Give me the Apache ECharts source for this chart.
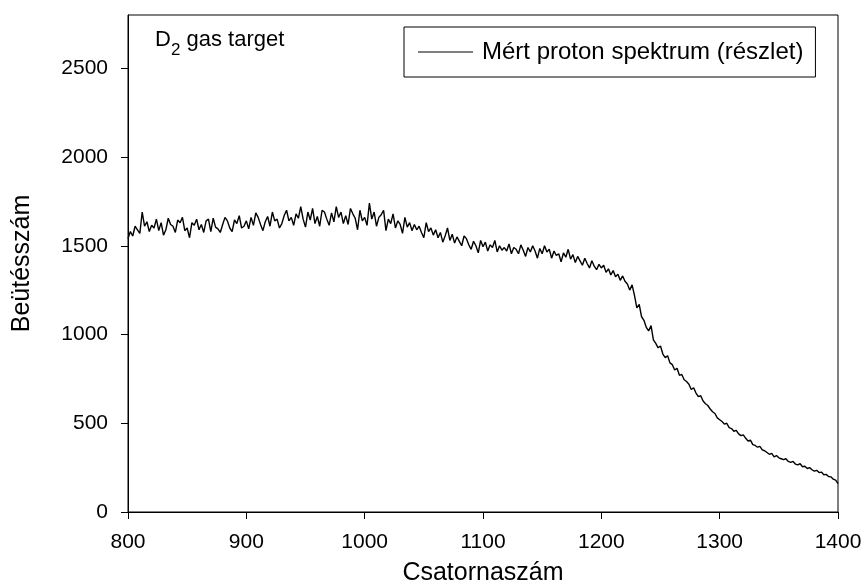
<!DOCTYPE html>
<html>
<head>
<meta charset="utf-8">
<script src="https://cdn.jsdelivr.net/npm/echarts@6/dist/echarts.min.js"></script>
<style>
  html, body { margin: 0; padding: 0; background: #fff; }
  #chart { width: 867px; height: 585px; }
</style>
</head>
<body>
<div id="chart"></div>
<script>
// csatorna: 800..1400, 2-esével
const channelStart = 800
const channelStep = 2
// beütésszám
const counts = [
  1540, 1580, 1555, 1610, 1590, 1570, 1690, 1610, 1635, 1580,
  1615, 1600, 1650, 1585, 1630, 1560, 1590, 1655, 1620, 1610,
  1575, 1645, 1630, 1660, 1585, 1600, 1545, 1630, 1615, 1650,
  1590, 1620, 1575, 1640, 1650, 1580, 1655, 1605, 1595, 1575,
  1620, 1660, 1640, 1600, 1580, 1645, 1625, 1670, 1600, 1610,
  1640, 1595, 1660, 1615, 1685, 1660, 1620, 1585, 1635, 1665,
  1610, 1690, 1640, 1650, 1600, 1625, 1670, 1700, 1640, 1660,
  1615, 1680, 1655, 1720, 1650, 1605, 1690, 1645, 1710, 1625,
  1665, 1610, 1700, 1690, 1650, 1615, 1685, 1635, 1720, 1660,
  1690, 1625, 1670, 1620, 1710, 1680, 1655, 1590, 1700, 1640,
  1660, 1615, 1740, 1650, 1690, 1610, 1660, 1675, 1700, 1585,
  1650, 1625, 1680, 1600, 1640, 1620, 1570, 1660, 1605, 1630,
  1585, 1620, 1590, 1610, 1575, 1545, 1630, 1580, 1600, 1560,
  1590, 1545, 1575, 1520, 1555, 1600, 1530, 1565, 1515, 1550,
  1525, 1500, 1555, 1540, 1505, 1480, 1525, 1500, 1460, 1530,
  1495, 1520, 1470, 1505, 1490, 1530, 1465, 1500, 1475, 1490,
  1470, 1510, 1455, 1490, 1480, 1455, 1505, 1475, 1440, 1490,
  1465, 1500, 1470, 1430, 1485, 1455, 1500, 1465, 1480, 1430,
  1470, 1445, 1455, 1410, 1460, 1435, 1480, 1425, 1450, 1405,
  1440, 1415, 1390, 1430, 1400, 1375, 1415, 1385, 1365, 1395,
  1375, 1390, 1350, 1370, 1335, 1360, 1325, 1340, 1305, 1330,
  1300, 1285, 1250, 1280, 1220, 1150, 1170, 1100, 1080, 1040,
  1020, 1050, 970, 950, 925, 935, 890, 870, 880, 840,
  830, 800, 810, 770, 775, 745, 735, 720, 690, 700,
  670, 650, 655, 625, 610, 600, 580, 565, 555, 530,
  520, 510, 495, 500, 475, 470, 455, 460, 440, 430,
  435, 415, 400, 405, 380, 375, 365, 370, 350, 345,
  335, 325, 330, 310, 318, 305, 300, 295, 300, 285,
  280, 285, 270, 265, 272, 255, 258, 245, 250, 238,
  230, 235, 222, 225, 210, 212, 200, 198, 185, 180,
  160
]
const xTicks = [800, 900, 1000, 1100, 1200, 1300, 1400]
const yTicks = [0, 500, 1000, 1500, 2000, 2500]
const seriesName = 'Mért proton spektrum (részlet)'

const chart = echarts.init(document.getElementById('chart'))
const font = 'Liberation Sans, Arial, sans-serif'
const points = counts.map((c, i) => [channelStart + i * channelStep, c])

chart.setOption({
  animation: false,
  textStyle: { fontFamily: font, color: '#000' },
  title: {
    left: 150,
    top: 24,
    text: '{a|D}{b|2}{a| gas target}',
    textStyle: {
      fontWeight: 'normal',
      rich: {
        a: { fontFamily: font, fontSize: 22, fontWeight: 'normal', color: '#000', verticalAlign: 'top' },
        b: { fontFamily: font, fontSize: 17, fontWeight: 'normal', color: '#000', padding: [13, 0, 0, 0] }
      }
    }
  },
  legend: {
    left: 404,
    top: 27,
    padding: [13, 12, 13, 14],
    borderColor: '#000',
    borderWidth: 1,
    borderRadius: 0,
    itemWidth: 55,
    itemHeight: 1,
    itemGap: 10,
    data: [{ name: seriesName, icon: 'rect' }],
    textStyle: { fontFamily: font, fontSize: 24, color: '#000', padding: [0, 0, 0, 4] }
  },
  grid: {
    left: 128,
    right: 29,
    top: 15,
    bottom: 73,
    show: true,
    borderColor: '#000',
    borderWidth: 1,
    outerBoundsMode: 'none'
  },
  xAxis: {
    type: 'value',
    min: xTicks[0],
    max: xTicks[xTicks.length - 1],
    interval: 100,
    name: 'Csatornaszám',
    nameLocation: 'middle',
    nameGap: 49,
    nameTextStyle: { fontFamily: font, fontSize: 25, color: '#000' },
    axisLine: { lineStyle: { color: '#000', width: 1 } },
    axisTick: { show: true, inside: false, length: 7, lineStyle: { color: '#000' } },
    axisLabel: { fontFamily: font, fontSize: 21, color: '#000', margin: 20, formatter: v => String(v) },
    splitLine: { show: false }
  },
  yAxis: {
    type: 'value',
    min: 0,
    max: 2800,
    interval: 500,
    name: 'Beütésszám',
    nameLocation: 'middle',
    nameGap: 93,
    nameRotate: 90,
    nameTextStyle: { fontFamily: font, fontSize: 25, color: '#000' },
    axisLine: { lineStyle: { color: '#000', width: 1 } },
    axisTick: { show: true, inside: false, length: 7, customValues: yTicks, lineStyle: { color: '#000' } },
    axisLabel: {
      fontFamily: font,
      fontSize: 21,
      color: '#000',
      margin: 20,
      customValues: yTicks,
      formatter: v => String(v)
    },
    splitLine: { show: false }
  },
  series: [{
    name: seriesName,
    type: 'line',
    data: points,
    symbol: 'none',
    color: '#000',
    lineStyle: { color: '#000', width: 1.4 }
  }]
})
</script>
</body>
</html>
